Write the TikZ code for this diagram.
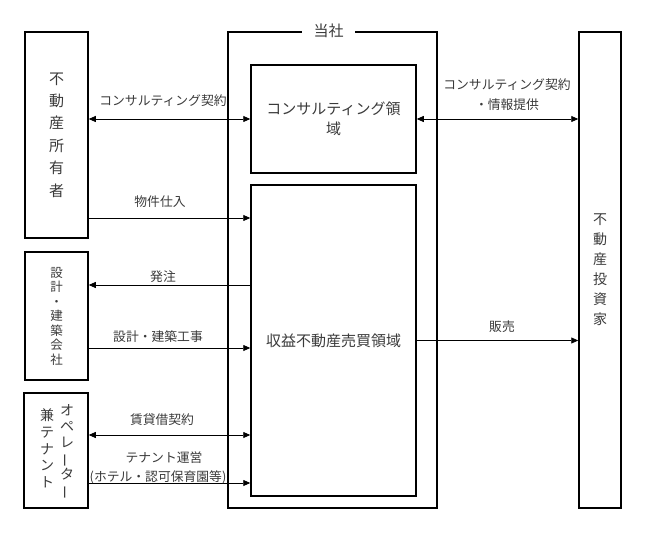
\documentclass[tikz,border=0pt]{standalone}
\usepackage{fontspec}
\usepackage{graphicx}
\usetikzlibrary{arrows.meta}
\newfontfamily\jp{Noto Sans CJK JP}
\newcommand{\vbar}{\rotatebox[origin=c]{90}{ー}}
\definecolor{txt}{HTML}{3A3A3A}
\tikzset{
  box/.style={draw=black, line width=1.5pt, inner sep=0pt, text=txt},
  lbl/.style={text=txt, font=\jp\fontsize{12.8}{20}\selectfont, inner sep=0pt, align=center},
  arr/.style={line width=0.8pt, -{Triangle[length=7pt,width=6pt]}},
  darr/.style={line width=0.8pt, {Triangle[length=7pt,width=6pt]}-{Triangle[length=7pt,width=6pt]}}
}
\begin{document}
\begin{tikzpicture}[x=1pt,y=-1pt]
\useasboundingbox (0,0) rectangle (645,537);
% boxes
\node[box, minimum width=63pt, minimum height=206pt, align=center,
      font=\jp\fontsize{15}{22.4}\selectfont] (owner) at (56.5,135) {不\\動\\産\\所\\有\\者};
\node[box, minimum width=63pt, minimum height=128pt, align=center,
      font=\jp\fontsize{12.5}{14.5}\selectfont] (design) at (56.5,316) {設\\計\\・\\建\\築\\会\\社};
\node[box, minimum width=64pt, minimum height=115pt] (oper) at (56,450.5) {};
\node[text=txt, align=center, inner sep=0pt, font=\jp\fontsize{14}{16}\selectfont] (operR) at (67,452) {オ\\ペ\\レ\\\vbar\\タ\\\vbar};
\node[text=txt, align=center, inner sep=0pt, font=\jp\fontsize{14}{16.75}\selectfont] (operL) at (47,448.5) {兼\\テ\\ナ\\ン\\ト};
\node[box, minimum width=209pt, minimum height=476pt] (company) at (332.5,270) {};
\node[fill=white, text=txt, inner xsep=11.5pt, inner ysep=2pt, font=\jp\fontsize{15}{18}\selectfont] (companylbl) at (328.5,31) {当社};
\node[box, minimum width=165pt, minimum height=108pt, align=center,
      font=\jp\fontsize{15}{20}\selectfont] (consult) at (333.5,119) {コンサルティング領\\域};
\node[box, minimum width=165pt, minimum height=311pt,
      font=\jp\fontsize{15}{20}\selectfont] (revenue) at (333.5,340.5) {収益不動産売買領域};
\node[box, minimum width=42pt, minimum height=476pt, align=center,
      font=\jp\fontsize{14}{20}\selectfont] (investor) at (600,270) {不\\動\\産\\投\\資\\家};
% connectors
\draw[darr] (owner.east |- consult.west) -- (consult.west);
\draw[arr] (owner.east |- 0,218) -- (revenue.west |- 0,218);
\draw[arr] (revenue.west |- 0,285) -- (design.east |- 0,285);
\draw[arr] (design.east |- 0,348) -- (revenue.west |- 0,348);
\draw[darr] (oper.east |- 0,435) -- (revenue.west |- 0,435);
\draw[arr] (oper.east |- 0,483) -- (revenue.west |- 0,483);
\draw[darr] (consult.east) -- (investor.west |- consult.east);
\draw[arr] (revenue.east) -- (investor.west |- revenue.east);
% labels
\node[lbl] (l1) at (163,101) {コンサルティング契約};
\node[lbl] (l2) at (160,202) {物件仕入};
\node[lbl] (l3) at (163,277) {発注};
\node[lbl] (l4) at (158,337) {設計・建築工事};
\node[lbl] (l5) at (162,420) {賃貸借契約};
\node[lbl] (l6) at (164,458) {テナント運営};
\node[lbl] (l7) at (158,477) {(ホテル・認可保育園等)};
\node[lbl] (r1) at (507,95) {コンサルティング契約\\・情報提供};
\node[lbl] (r2) at (502,327) {販売};
\end{tikzpicture}
\end{document}
